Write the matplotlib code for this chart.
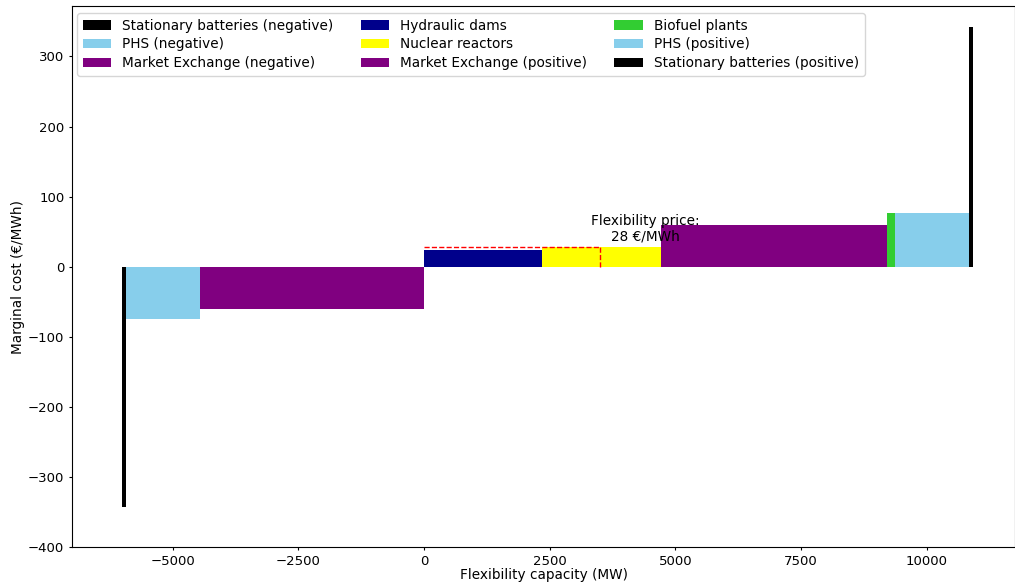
import matplotlib
matplotlib.use("Agg")
import matplotlib.pyplot as plt
import numpy as np

# Negative flexibility (built leftwards from 0)
neg_labels = ["Stationary batteries (negative)", "PHS (negative)", "Market Exchange (negative)"]
neg_widths = [80, 1471, 4453]          # MW
neg_costs = [-343, -74, -60]           # €/MWh
neg_colors = ["black", "skyblue", "purple"]

# Positive flexibility (built rightwards from 0)
pos_labels = ["Hydraulic dams", "Nuclear reactors", "Market Exchange (positive)",
              "Biofuel plants", "PHS (positive)", "Stationary batteries (positive)"]
pos_widths = [2346, 2366, 4493, 159, 1471, 80]
pos_costs = [24, 28, 60, 76, 77, 342]
pos_colors = ["darkblue", "yellow", "purple", "limegreen", "skyblue", "black"]

flex_need = 3500       # MW
flex_price = 28        # €/MWh

plt.rcParams['font.family'] = ['DejaVu Sans']
fig = plt.figure(figsize=(10.15, 5.85), dpi=100)
ax = fig.add_axes([0.0709, 0.065, 0.9295, 0.9247])

fs = 9.8
# negative bars: leftmost first
neg_lefts = -np.cumsum(neg_widths[::-1])[::-1]
for lbl, left, w, c, col in zip(neg_labels, neg_lefts, neg_widths, neg_costs, neg_colors):
    ax.bar(left, c, width=w, align='edge', color=col, label=lbl)

pos_lefts = np.concatenate([[0], np.cumsum(pos_widths)[:-1]])
for lbl, left, w, c, col in zip(pos_labels, pos_lefts, pos_widths, pos_costs, pos_colors):
    ax.bar(left, c, width=w, align='edge', color=col, label=lbl)

ax.plot([0, flex_need], [flex_price, flex_price], color='red', linestyle='--', linewidth=1)
ax.plot([flex_need, flex_need], [0, flex_price], color='red', linestyle='--', linewidth=1)
ax.text(4400, 54, f"Flexibility price:\n{flex_price} €/MWh", ha='center', va='center', fontsize=fs)

ax.set_xlim(-7000, 11760)
ax.set_ylim(-400, 372)
ax.tick_params(labelsize=9.5, length=2.5, pad=3)
ax.set_xlabel("Flexibility capacity (MW)", fontsize=fs, labelpad=0)
ax.set_ylabel("Marginal cost (€/MWh)", fontsize=fs, labelpad=2)
ax.legend(loc='upper left', ncol=3, fontsize=fs, bbox_to_anchor=(0.0, 0.997),
          borderaxespad=0.4, handlelength=2.1, labelspacing=0.35)

fig.savefig("out.png", dpi=100)
